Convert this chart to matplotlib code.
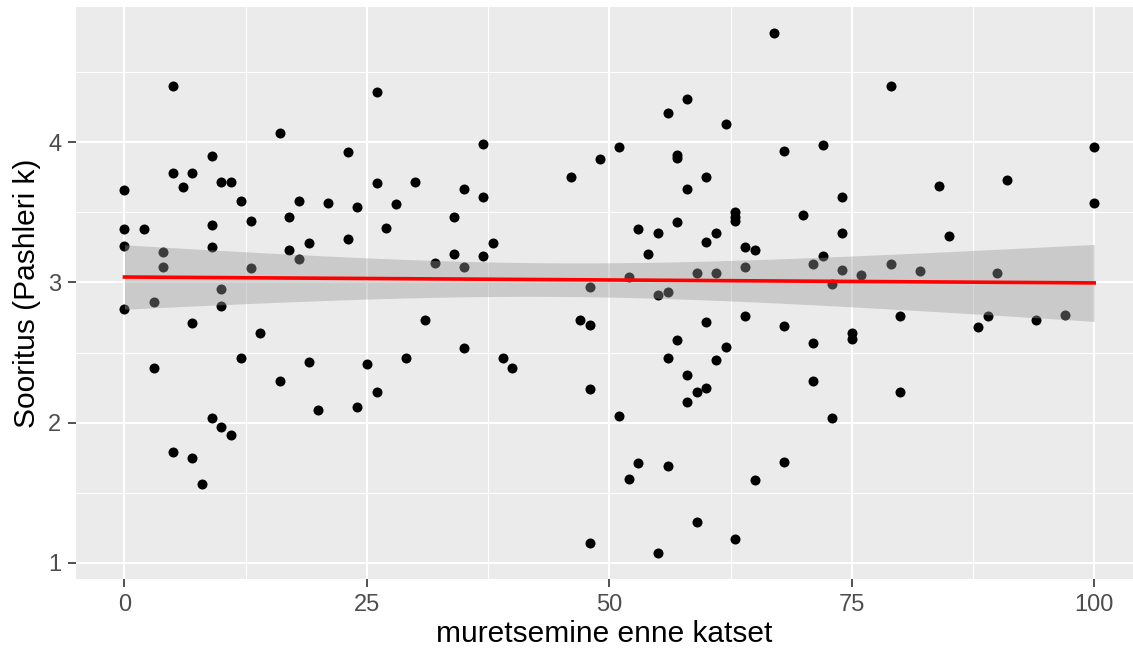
import numpy as np
import matplotlib
matplotlib.use("Agg")
import matplotlib.pyplot as plt

# muretsemine enne katset (x) and Sooritus (y)
mure = [0, 0, 0, 0, 2, 3, 3, 4, 4, 5, 5, 5, 6, 7, 7, 7, 8,
        9, 9, 9, 9, 10, 10, 10, 10, 11, 11, 12, 12, 13, 13, 14,
        16, 16, 17, 17, 18, 18, 19, 19, 20, 21, 23, 23, 24, 24, 25,
        26, 26, 26, 27, 28, 29, 30, 31, 32, 34, 34, 35, 35, 35,
        37, 37, 37, 38, 39, 40,
        46, 47, 48, 48, 48, 48, 49, 51, 51, 52, 52, 53, 53, 54,
        55, 55, 55, 56, 56, 56, 56, 57, 57, 57, 57, 58, 58, 58, 58,
        59, 59, 59, 60, 60, 60, 60, 61, 61, 61, 62, 62, 63, 63, 63, 63,
        64, 64, 64, 65, 65, 67, 68, 68, 68, 70, 71, 71, 71, 72, 72,
        73, 73, 74, 74, 74, 75, 75, 76, 79, 79, 80, 80, 82, 84, 85,
        88, 89, 90, 91, 94, 97, 100, 100]
sooritus = [3.66, 3.38, 3.26, 2.81, 3.38, 2.86, 2.39, 3.22, 3.11, 4.40, 3.78, 1.79, 3.68, 3.78, 2.71, 1.75, 1.56,
            3.90, 3.41, 3.25, 2.03, 3.72, 2.95, 2.83, 1.97, 3.72, 1.91, 3.58, 2.46, 3.44, 3.10, 2.64,
            4.07, 2.30, 3.47, 3.23, 3.58, 3.17, 3.28, 2.43, 2.09, 3.57, 3.93, 3.31, 3.54, 2.11, 2.42,
            4.36, 3.71, 2.22, 3.39, 3.56, 2.46, 3.72, 2.73, 3.14, 3.47, 3.20, 3.67, 3.11, 2.53,
            3.99, 3.61, 3.19, 3.28, 2.46, 2.39,
            3.75, 2.73, 2.97, 2.70, 2.24, 1.14, 3.88, 3.97, 2.05, 3.04, 1.60, 3.38, 1.71, 3.20,
            3.35, 2.91, 1.07, 4.21, 2.93, 2.46, 1.69, 3.91, 3.89, 3.43, 2.59, 4.31, 3.67, 2.34, 2.15,
            3.07, 2.22, 1.29, 3.75, 3.29, 2.72, 2.25, 3.35, 3.07, 2.45, 4.13, 2.54, 3.50, 3.47, 3.44, 1.17,
            3.25, 3.11, 2.76, 3.23, 1.59, 4.78, 3.94, 2.69, 1.72, 3.48, 3.13, 2.57, 2.30, 3.98, 3.19,
            2.99, 2.03, 3.61, 3.35, 3.09, 2.64, 2.60, 3.05, 4.40, 3.13, 2.76, 2.22, 3.08, 3.69, 3.33,
            2.68, 2.76, 3.07, 3.73, 2.73, 2.77, 3.97, 3.57]

x_ticks = [0, 25, 50, 75, 100]
y_ticks = [1, 2, 3, 4]

plt.rcParams['font.family'] = ['Liberation Sans', 'DejaVu Sans']

x = np.array(mure, dtype=float)
y = np.array(sooritus, dtype=float)

# linear fit with 95% confidence band (like geom_smooth(method="lm"))
n = len(x)
slope, intercept = np.polyfit(x, y, 1)
resid = y - (intercept + slope * x)
s = np.sqrt(np.sum(resid ** 2) / (n - 2))
sxx = np.sum((x - x.mean()) ** 2)
t_crit = 1.976
xs = np.linspace(x.min(), x.max(), 80)
fit = intercept + slope * xs
se = s * np.sqrt(1.0 / n + (xs - x.mean()) ** 2 / sxx)

fig = plt.figure(figsize=(11.33, 6.61), dpi=100)
ax = fig.add_axes([76 / 1133, 1 - 579 / 661, 1 - 76 / 1133, (579 - 7) / 661])
ax.set_facecolor('#EBEBEB')
for sp in ax.spines.values():
    sp.set_visible(False)

ax.scatter(x, y, s=52, color='black', linewidths=0, zorder=3)
ax.fill_between(xs, fit - t_crit * se, fit + t_crit * se, color='#999999', alpha=0.4,
                linewidth=0, zorder=4)
ax.plot(xs, fit, color='red', linewidth=2.6, zorder=5)

yr = y.max() - y.min()
ax.set_ylim(y.min() - 0.05 * yr, y.max() + 0.05 * yr)
ax.set_xlim(-5, 104)

ax.set_xticks(x_ticks)
ax.set_yticks(y_ticks)
ax.set_xticks([12.5, 37.5, 62.5, 87.5], minor=True)
ax.set_yticks([1.5, 2.5, 3.5, 4.5], minor=True)
ax.grid(which='major', color='white', linewidth=1.5)
ax.grid(which='minor', color='white', linewidth=0.75)
ax.set_axisbelow(True)
ax.tick_params(which='major', length=5.5, width=1.2, color='#333333',
               labelsize=17, labelcolor='#4D4D4D', pad=5)
ax.tick_params(which='minor', length=0)

ax.set_xlabel('muretsemine enne katset', fontsize=21.5, labelpad=3)
ax.set_ylabel('Sooritus (Pashleri k)', fontsize=21.5, labelpad=5)

fig.savefig('out.png', dpi=100)
